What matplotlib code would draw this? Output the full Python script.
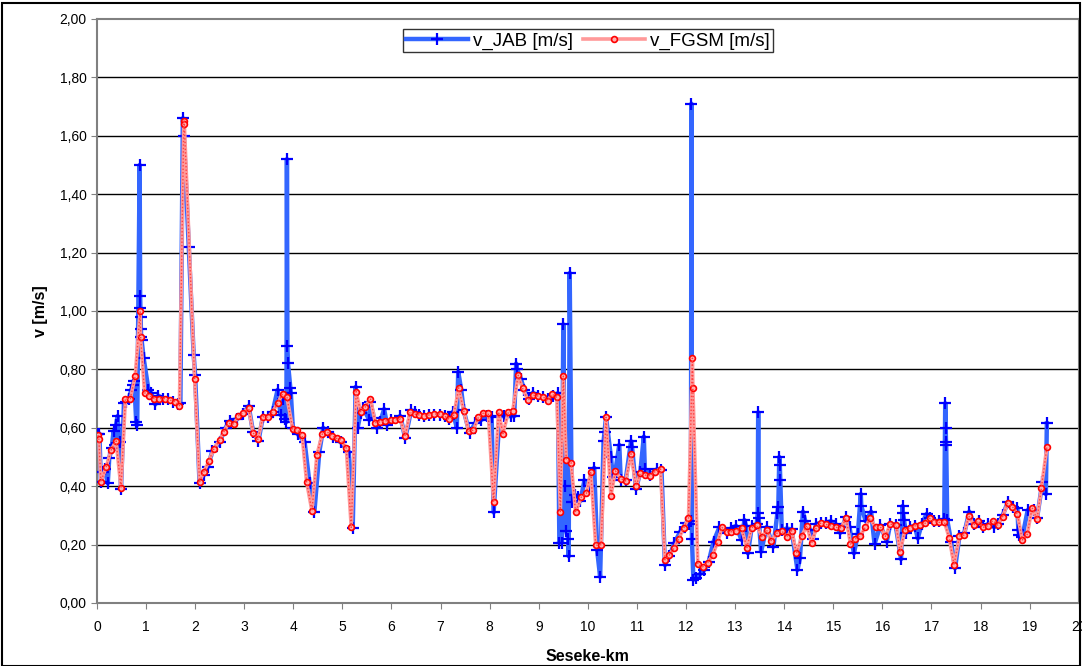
import matplotlib
matplotlib.use('Agg')
import matplotlib.pyplot as plt
from matplotlib.ticker import FuncFormatter
from matplotlib.patches import Rectangle

plt.rcParams['font.family'] = ['Liberation Sans', 'DejaVu Sans']

# v_JAB [m/s]
km_jab = [0.02, 0.05, 0.08, 0.12, 0.16, 0.22, 0.25, 0.30, 0.34, 0.37, 0.39, 0.42, 0.46, 0.49,
          0.55, 0.60, 0.65, 0.70, 0.73, 0.76, 0.80, 0.82, 0.87, 0.88, 0.885, 0.89, 0.895, 0.90,
          0.91, 0.95, 1.05, 1.10, 1.19, 1.25, 1.35, 1.45, 1.55, 1.65, 1.70, 1.75, 1.77, 1.87,
          1.97, 2.00, 2.09, 2.18, 2.26, 2.35, 2.50, 2.62, 2.71, 2.85, 2.98, 3.09, 3.18, 3.29,
          3.38, 3.48, 3.58, 3.68, 3.74, 3.78, 3.83, 3.86, 3.87, 3.88, 3.89, 3.94, 3.95, 3.99,
          4.09, 4.23, 4.33, 4.43, 4.53, 4.61, 4.70, 4.80, 4.97, 5.13, 5.21, 5.27, 5.31, 5.37,
          5.42, 5.55, 5.57, 5.64, 5.70, 5.77, 5.85, 5.91, 6.00, 6.18, 6.28, 6.40, 6.47, 6.57,
          6.67, 6.77, 6.87, 6.98, 7.08, 7.18, 7.25, 7.33, 7.36, 7.42, 7.47, 7.59, 7.71, 7.83,
          7.95, 8.04, 8.08, 8.20, 8.30, 8.44, 8.50, 8.54, 8.56, 8.64, 8.70, 8.80, 8.88, 8.98,
          9.08, 9.18, 9.28, 9.39, 9.42, 9.47, 9.50, 9.53, 9.56, 9.60, 9.61, 9.63, 9.67, 9.74,
          9.79, 9.85, 9.93, 10.03, 10.13, 10.19, 10.25, 10.32, 10.34, 10.37, 10.47, 10.51,
          10.55, 10.64, 10.67, 10.77, 10.88, 10.90, 10.98, 11.07, 11.14, 11.16, 11.27, 11.41,
          11.50, 11.57, 11.66, 11.76, 11.88, 12.00, 12.06, 12.10, 12.11, 12.12, 12.15, 12.20,
          12.29, 12.37, 12.46, 12.56, 12.68, 12.83, 12.92, 13.02, 13.13, 13.19, 13.22, 13.26,
          13.34, 13.44, 13.46, 13.47, 13.48, 13.53, 13.64, 13.78, 13.86, 13.88, 13.90, 13.91,
          13.92, 13.95, 14.05, 14.15, 14.27, 14.32, 14.38, 14.43, 14.53, 14.58, 14.65, 14.75,
          14.85, 14.95, 15.05, 15.14, 15.26, 15.33, 15.42, 15.50, 15.56, 15.57, 15.66, 15.77,
          15.84, 15.96, 16.09, 16.16, 16.27, 16.38, 16.41, 16.42, 16.44, 16.48, 16.56, 16.66,
          16.72, 16.80, 16.90, 16.96, 17.06, 17.16, 17.26, 17.28, 17.29, 17.295, 17.30, 17.32,
          17.40, 17.48, 17.57, 17.67, 17.77, 17.86, 17.96, 18.05, 18.15, 18.28, 18.35, 18.45,
          18.56, 18.66, 18.75, 18.77, 18.79, 18.85, 18.96, 19.08, 19.15, 19.26, 19.33, 19.35]
v_jab = [0.58, 0.58, 0.415, 0.45, 0.46, 0.41, 0.495, 0.53, 0.59, 0.54, 0.61, 0.64, 0.55, 0.39,
         0.685, 0.69, 0.70, 0.73, 0.745, 0.76, 0.62, 0.61, 1.50, 1.05, 1.01, 0.98, 0.94, 0.91,
         0.90, 0.84, 0.73, 0.72, 0.68, 0.71, 0.70, 0.70, 0.69, 0.68, 0.686, 1.66, 1.60, 1.22,
         0.85, 0.78, 0.41, 0.44, 0.467, 0.52, 0.552, 0.60, 0.623, 0.63, 0.647, 0.675, 0.585, 0.555,
         0.638, 0.636, 0.655, 0.73, 0.644, 0.70, 0.63, 0.62, 1.52, 0.88, 0.823, 0.735, 0.718, 0.60,
         0.578, 0.552, 0.41, 0.313, 0.518, 0.60, 0.585, 0.57, 0.55, 0.518, 0.256, 0.74, 0.60, 0.65,
         0.667, 0.627, 0.69, 0.632, 0.60, 0.62, 0.664, 0.61, 0.625, 0.64, 0.564, 0.66, 0.655, 0.644,
         0.64, 0.644, 0.645, 0.645, 0.64, 0.63, 0.655, 0.60, 0.792, 0.73, 0.66, 0.581, 0.618, 0.627,
         0.64, 0.638, 0.31, 0.64, 0.64, 0.64, 0.64, 0.82, 0.80, 0.766, 0.73, 0.70, 0.72, 0.71,
         0.705, 0.697, 0.71, 0.718, 0.207, 0.207, 0.954, 0.40, 0.246, 0.22, 0.16, 1.13, 0.345, 0.37,
         0.364, 0.35, 0.42, 0.40, 0.463, 0.18, 0.09, 0.554, 0.587, 0.636, 0.50, 0.43,
         0.44, 0.541, 0.42, 0.42, 0.554, 0.535, 0.39, 0.45, 0.57, 0.46, 0.44, 0.458,
         0.455, 0.13, 0.16, 0.204, 0.244, 0.273, 0.27, 0.28, 1.71, 0.22, 0.08, 0.085,
         0.10, 0.113, 0.14, 0.21, 0.26, 0.24, 0.256, 0.264, 0.216, 0.284, 0.265, 0.17,
         0.262, 0.27, 0.307, 0.653, 0.29, 0.176, 0.26, 0.193, 0.307, 0.33, 0.50, 0.473,
         0.421, 0.25, 0.255, 0.252, 0.113, 0.153, 0.313, 0.28, 0.25, 0.22, 0.27, 0.275,
         0.275, 0.28, 0.27, 0.24, 0.295, 0.26, 0.17, 0.235, 0.373, 0.332, 0.28, 0.313,
         0.202, 0.266, 0.21, 0.272, 0.267, 0.15, 0.332, 0.307, 0.285, 0.24, 0.26, 0.265,
         0.221, 0.27, 0.305, 0.29, 0.282, 0.28, 0.287, 0.684, 0.598, 0.553, 0.541, 0.285,
         0.21, 0.119, 0.23, 0.24, 0.313, 0.27, 0.28, 0.26, 0.27, 0.26, 0.27, 0.30,
         0.347, 0.33, 0.324, 0.25, 0.233, 0.225, 0.318, 0.32, 0.29, 0.415, 0.373, 0.615]

# v_FGSM [m/s]
km_fgsm = [0.02, 0.04, 0.08, 0.19, 0.29, 0.39, 0.49, 0.58, 0.68, 0.78, 0.88, 0.89, 0.97, 1.07,
           1.17, 1.27, 1.38, 1.48, 1.58, 1.68, 1.77, 1.78, 1.99, 2.09, 2.18, 2.28, 2.38, 2.50,
           2.58, 2.68, 2.79, 2.88, 2.98, 3.09, 3.18, 3.28, 3.38, 3.48, 3.58, 3.68, 3.78, 3.87,
           3.99, 4.08, 4.18, 4.27, 4.38, 4.48, 4.59, 4.68, 4.78, 4.88, 4.97, 5.08, 5.18, 5.28,
           5.37, 5.47, 5.57, 5.67, 5.77, 5.87, 5.98, 6.07, 6.18, 6.28, 6.38, 6.47, 6.57, 6.67,
           6.77, 6.87, 6.98, 7.08, 7.18, 7.27, 7.37, 7.47, 7.57, 7.67, 7.77, 7.87, 7.97, 8.08,
           8.18, 8.27, 8.38, 8.47, 8.58, 8.67, 8.78, 8.88, 8.98, 9.08, 9.18, 9.27, 9.37, 9.44,
           9.50, 9.56, 9.66, 9.75, 9.87, 9.97, 10.06, 10.16, 10.27, 10.37, 10.47, 10.56, 10.67,
           10.77, 10.88, 10.98, 11.07, 11.17, 11.27, 11.37, 11.48, 11.57, 11.66, 11.75, 11.85,
           11.95, 12.05, 12.13, 12.14, 12.24, 12.34, 12.44, 12.54, 12.65, 12.73, 12.83, 12.92,
           13.02, 13.13, 13.24, 13.34, 13.44, 13.55, 13.64, 13.74, 13.85, 13.95, 14.05, 14.15,
           14.25, 14.36, 14.46, 14.56, 14.65, 14.75, 14.85, 14.95, 15.05, 15.16, 15.26, 15.35,
           15.45, 15.55, 15.65, 15.75, 15.86, 15.96, 16.06, 16.16, 16.28, 16.36, 16.46, 16.56,
           16.66, 16.77, 16.87, 16.96, 17.06, 17.16, 17.26, 17.36, 17.46, 17.57, 17.66, 17.76,
           17.86, 17.95, 18.05, 18.15, 18.25, 18.35, 18.45, 18.55, 18.65, 18.75, 18.85, 18.95,
           19.05, 19.15, 19.24, 19.35]
v_fgsm = [0.575, 0.56, 0.415, 0.467, 0.524, 0.555, 0.393, 0.70, 0.70, 0.777, 1.00, 0.91, 0.72, 0.71,
          0.70, 0.70, 0.70, 0.695, 0.69, 0.676, 1.65, 1.64, 0.767, 0.415, 0.45, 0.486, 0.527, 0.558,
          0.585, 0.615, 0.613, 0.64, 0.652, 0.667, 0.583, 0.56, 0.638, 0.636, 0.655, 0.684, 0.716, 0.704,
          0.595, 0.593, 0.574, 0.415, 0.315, 0.507, 0.579, 0.587, 0.573, 0.564, 0.558, 0.53, 0.259, 0.724,
          0.655, 0.672, 0.70, 0.618, 0.62, 0.623, 0.627, 0.627, 0.63, 0.572, 0.655, 0.647, 0.644, 0.64,
          0.644, 0.647, 0.647, 0.64, 0.629, 0.644, 0.737, 0.659, 0.589, 0.592, 0.636, 0.65, 0.652, 0.345,
          0.655, 0.58, 0.653, 0.659, 0.78, 0.735, 0.695, 0.712, 0.709, 0.707, 0.693, 0.715, 0.704, 0.313,
          0.777, 0.49, 0.48, 0.31, 0.364, 0.375, 0.45, 0.197, 0.20, 0.636, 0.367, 0.452, 0.426,
          0.418, 0.511, 0.40, 0.444, 0.438, 0.436, 0.45, 0.459, 0.148, 0.164, 0.187, 0.219,
          0.256, 0.29, 0.838, 0.737, 0.132, 0.124, 0.138, 0.164, 0.21, 0.259, 0.244, 0.244,
          0.248, 0.256, 0.19, 0.258, 0.267, 0.225, 0.25, 0.212, 0.239, 0.247, 0.227, 0.248,
          0.17, 0.23, 0.265, 0.204, 0.256, 0.275, 0.269, 0.264, 0.259, 0.258, 0.29, 0.202,
          0.219, 0.23, 0.259, 0.29, 0.259, 0.261, 0.228, 0.27, 0.267, 0.174, 0.25, 0.258,
          0.264, 0.267, 0.273, 0.29, 0.279, 0.276, 0.279, 0.224, 0.13, 0.229, 0.233, 0.298,
          0.267, 0.281, 0.259, 0.265, 0.282, 0.267, 0.296, 0.341, 0.33, 0.304, 0.216, 0.235,
          0.326, 0.287, 0.395, 0.533]

x_ticks = list(range(0, 21))
y_ticks = [0.0, 0.2, 0.4, 0.6, 0.8, 1.0, 1.2, 1.4, 1.6, 1.8, 2.0]

fig = plt.figure(figsize=(10.82, 6.66), dpi=100)
ax = fig.add_axes([0.0896, 0.0946, 0.9074, 0.8769])

# Excel-like chart: horizontal black gridlines, grey plot frame
for yv in y_ticks[1:-1]:
    ax.axhline(yv, color='black', lw=1.0, zorder=1)

ax.plot(km_jab, v_jab, color='#3366ff', lw=3.2, marker='+', ms=8.5, mew=1.6,
        mec='#0000ff', label='v_JAB [m/s]', zorder=3)
ax.plot(km_fgsm, v_fgsm, color='#ff9999', lw=2.6, ls='-', marker='o', ms=4.2,
        mfc='#ffb0b0', mec='#ff0000', mew=1.2, label='v_FGSM [m/s]', zorder=4)
ax.plot(km_fgsm, v_fgsm, color='#ff4040', lw=1.0, ls=(0, (1, 1.5)), zorder=4)

ax.set_xlim(0, 20)
ax.set_ylim(0, 2)
ax.set_xticks(x_ticks)
ax.set_yticks(y_ticks)
ax.yaxis.set_major_formatter(FuncFormatter(lambda v, p: f'{v:.2f}'.replace('.', ',')))
ax.tick_params(axis='both', labelsize=10, direction='out', length=4, color='#808080')
ax.tick_params(axis='x', pad=8)
for sp in ax.spines.values():
    sp.set_color('#808080')
    sp.set_linewidth(1.5)

ax.set_xlabel('Seseke-km', fontsize=11.5, fontweight='bold', labelpad=11)
ax.set_ylabel('v [m/s]', fontsize=11.5, fontweight='bold', labelpad=8)

leg = ax.legend(loc='upper center', bbox_to_anchor=(0.5, 0.982), ncol=2, fontsize=13.5,
                frameon=True, fancybox=False, edgecolor='black', borderpad=0.15,
                handlelength=3.3, columnspacing=0.5, handletextpad=0.3, borderaxespad=0)
leg.get_frame().set_linewidth(1.0)

fig.patches.append(Rectangle((0.002, 0.0), 0.996, 0.996, transform=fig.transFigure,
                             fill=False, edgecolor='black', lw=1.5))

fig.savefig('out.png', dpi=100)
